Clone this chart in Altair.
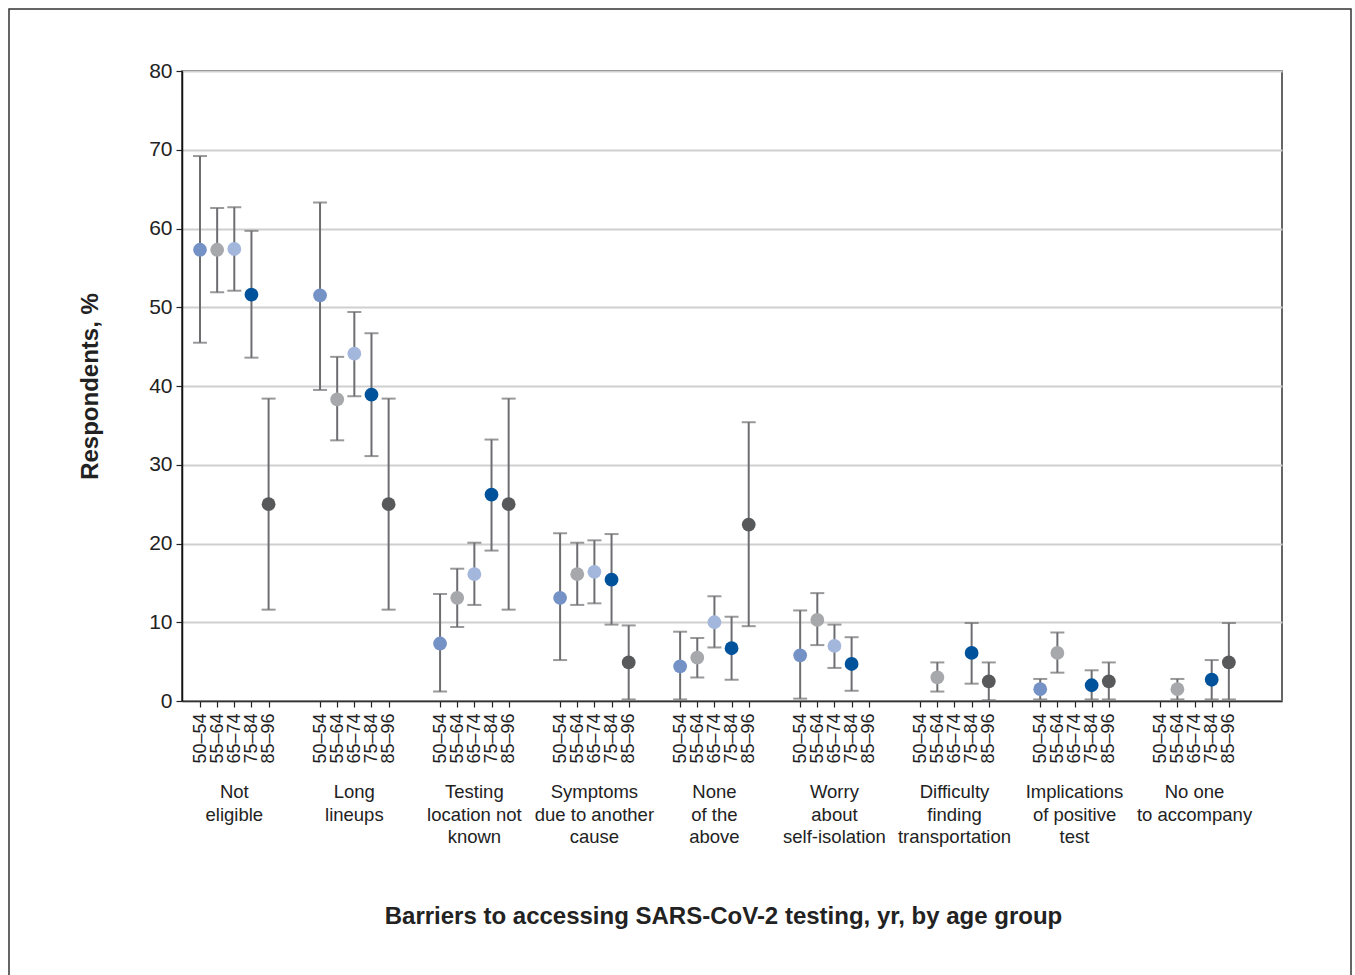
import altair as alt
import pandas as pd

ages = ["50–54", "55–64", "65–74", "75–84", "85–96"]
categories = [
    "Not\neligible",
    "Long\nlineups",
    "Testing\nlocation not\nknown",
    "Symptoms\ndue to another\ncause",
    "None\nof the\nabove",
    "Worry\nabout\nself-isolation",
    "Difficulty\nfinding\ntransportation",
    "Implications\nof positive\ntest",
    "No one\nto accompany",
]
est = [
    [57.3, 57.3, 57.4, 51.6, 25.0],
    [51.5, 38.3, 44.1, 38.9, 25.0],
    [7.3, 13.1, 16.1, 26.2, 25.0],
    [13.1, 16.1, 16.4, 15.4, 4.9],
    [4.4, 5.5, 10.0, 6.7, 22.4],
    [5.8, 10.3, 7.0, 4.7, None],
    [None, 3.0, None, 6.1, 2.5],
    [1.5, 6.1, None, 2.0, 2.5],
    [None, 1.5, None, 2.7, 4.9],
]
lo = [
    [45.5, 51.9, 52.1, 43.6, 11.6],
    [39.5, 33.1, 38.7, 31.1, 11.6],
    [1.2, 9.4, 12.2, 19.1, 11.6],
    [5.2, 12.2, 12.4, 9.7, 0.2],
    [0.2, 3.0, 6.8, 2.7, 9.5],
    [0.3, 7.1, 4.2, 1.3, None],
    [None, 1.2, None, 2.2, 0.1],
    [0.2, 3.6, None, 0.2, 0.2],
    [None, 0.2, None, 0.2, 0.2],
]
hi = [
    [69.2, 62.6, 62.7, 59.7, 38.4],
    [63.3, 43.7, 49.4, 46.7, 38.4],
    [13.6, 16.8, 20.1, 33.2, 38.4],
    [21.3, 20.1, 20.4, 21.2, 9.6],
    [8.8, 8.0, 13.3, 10.7, 35.4],
    [11.5, 13.7, 9.7, 8.1, None],
    [None, 4.9, None, 9.9, 4.9],
    [2.8, 8.7, None, 3.9, 4.9],
    [None, 2.8, None, 5.2, 9.9],
]
age_colors = ["#7592c6", "#a7a8ab", "#a3b6dc", "#00539b", "#58595b"]

STEP = 7  # slots per category group (5 ages + gap)

rows = []
for ci, cat in enumerate(categories):
    for ai, age in enumerate(ages):
        if est[ci][ai] is None:
            continue
        rows.append({"pos": ci * STEP + ai, "cat": cat, "age": age,
                     "est": est[ci][ai], "lo": lo[ci][ai], "hi": hi[ci][ai]})
df = pd.DataFrame(rows)
cat_df = pd.DataFrame({"pos": [ci * STEP + 2 for ci in range(len(categories))],
                       "label": categories})
tick_positions = [ci * STEP + ai for ci in range(len(categories)) for ai in range(len(ages))]

FONT = "Liberation Sans"
W, H = 1100, 630

xscale = alt.Scale(domain=[-1.05, 63.1], nice=False, zero=False)
yscale = alt.Scale(domain=[0, 80], nice=False)

label_expr = "['50–54','55–64','65–74','75–84','85–96'][datum.value % 7]"

xaxis = alt.Axis(values=tick_positions, labelExpr=label_expr, labelAngle=270,
                 labelAlign="right", labelBaseline="middle", labelPadding=6,
                 labelFontSize=18, labelColor="#222", tickSize=6, tickColor="#222",
                 tickWidth=1.2, domainColor="#333", domainWidth=1.5, grid=False,
                 labelOverlap=False, labelFlush=False, labelBound=False,
                 title="Barriers to accessing SARS-CoV-2 testing, yr, by age group",
                 titleFontSize=24, titleFontWeight="bold", titleColor="#222",
                 titleX=541, titleY=215, titleAlign="center", titleBaseline="middle",
                 titleAnchor=None)
yaxis = alt.Axis(values=list(range(0, 81, 10)), labelFontSize=21, labelColor="#222",
                 labelPadding=4, tickSize=6, tickColor="#222", tickWidth=1.2,
                 domainColor="#111", domainWidth=1.5, grid=True, gridColor="#cfcfcf",
                 gridWidth=2, title="Respondents, %", titleFontSize=24,
                 titleFontWeight="bold", titleColor="#222", titlePadding=46)


def X(field):
    return alt.X(field, type="quantitative", scale=xscale, axis=xaxis)


def Y(field):
    return alt.Y(field, type="quantitative", scale=yscale, axis=yaxis)


base = alt.Chart(df)

frame = alt.Chart(pd.DataFrame({"a": [0]})).mark_rect(
    fill=None, stroke="#333", strokeWidth=1.5
).encode(x=alt.value(-173), x2=alt.value(1169), y=alt.value(-62), y2=alt.value(1000))

rules = base.mark_rule(color="#6d6e71", strokeWidth=2).encode(
    x=X("pos"), y=Y("lo"), y2="hi:Q")
cap_lo = base.mark_tick(color="#6d6e71", orient="horizontal", size=14, thickness=2).encode(
    x=X("pos"), y=Y("lo"))
cap_hi = base.mark_tick(color="#6d6e71", orient="horizontal", size=14, thickness=2).encode(
    x=X("pos"), y=Y("hi"))
points = base.mark_circle(size=190, opacity=1).encode(
    x=X("pos"), y=Y("est"),
    color=alt.Color("age:N", scale=alt.Scale(domain=ages, range=age_colors), legend=None),
)
cat_labels = alt.Chart(cat_df).mark_text(
    lineBreak="\n", fontSize=18.5, font=FONT, color="#222", align="center",
    baseline="top", lineHeight=22.5
).encode(x=X("pos"), y=alt.value(712), text="label:N")

chart = alt.layer(frame, rules, cap_lo, cap_hi, points, cat_labels).properties(
    width=W, height=H,
    padding={"left": 8, "top": 8, "right": 0, "bottom": 0},
).configure(font=FONT).configure_view(stroke="#333", strokeWidth=1.5
).configure_axis(labelOverlap=False)

chart.save("out.html", embed_options={"renderer": "svg", "actions": False})
